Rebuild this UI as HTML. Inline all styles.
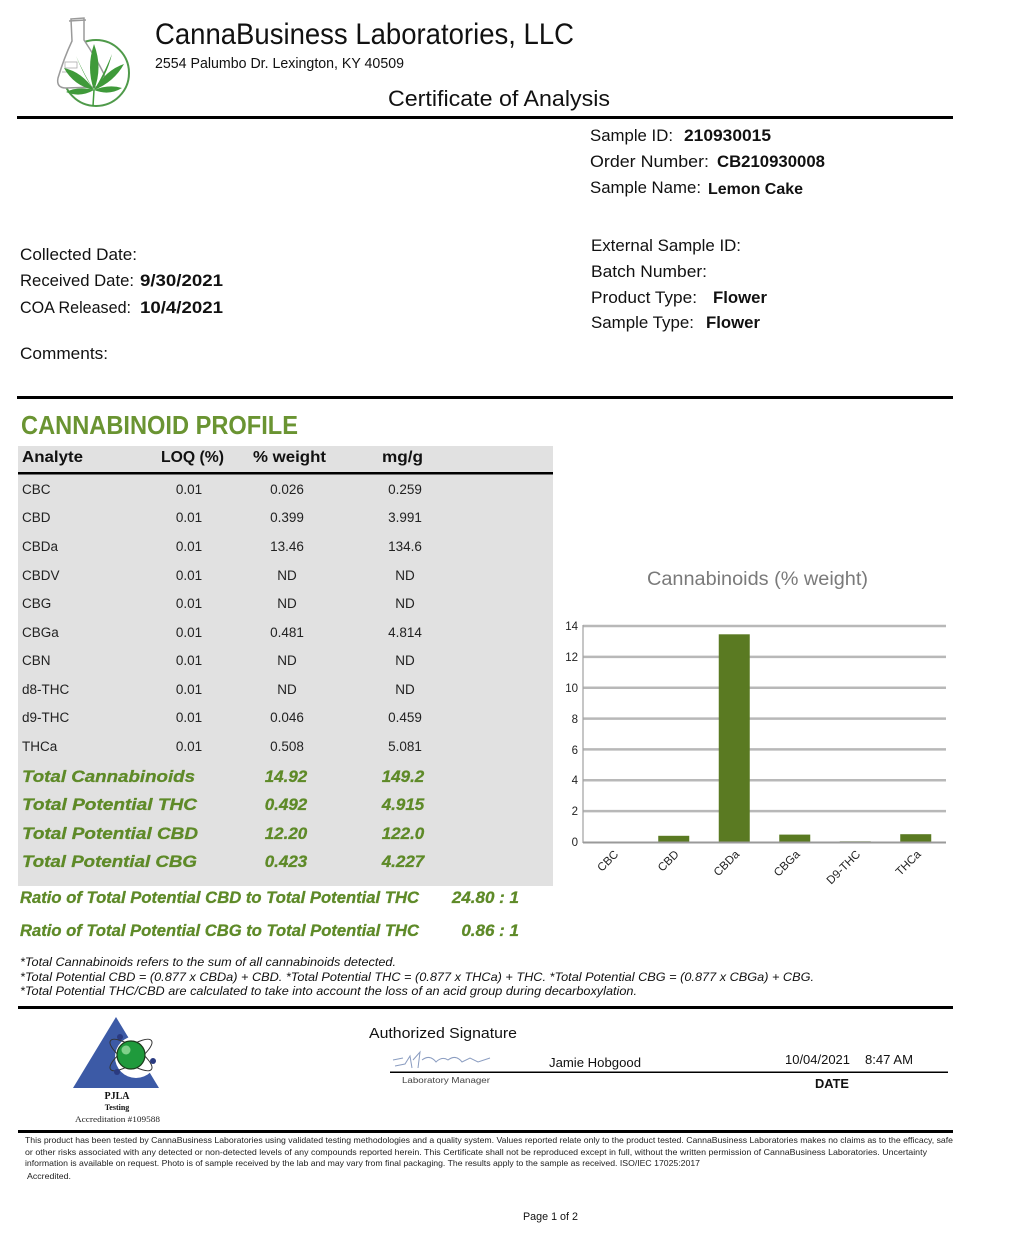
<!DOCTYPE html>
<html>
<head>
<meta charset="utf-8">
<style>
html,body{margin:0;padding:0;background:#fff;}
svg{display:block;}
text{font-family:"Liberation Sans",Arial,sans-serif;}
.serif{font-family:"Liberation Serif","Times New Roman",serif;}
</style>
</head>
<body>
<svg width="1024" height="1257" viewBox="0 0 1024 1257" xmlns="http://www.w3.org/2000/svg">
<rect x="0" y="0" width="1024" height="1257" fill="#ffffff"/>

<!-- Logo -->
<g>
  <circle cx="96" cy="73" r="33" fill="none" stroke="#4f9a4a" stroke-width="2"/>
  <path d="M71,19 L84,18 L84,40 Q96,58 104,74 Q106,86 96,87 L66,88 Q56,88 58,78 Q64,58 72,41 Z" fill="#fff" stroke="#9a9a9a" stroke-width="1.5"/>
  <line x1="69" y1="21" x2="86" y2="20" stroke="#9a9a9a" stroke-width="1.5"/>
  <rect x="65" y="62" width="12" height="6" fill="none" stroke="#aaa" stroke-width="0.8"/>
  <line x1="62" y1="72" x2="70" y2="72" stroke="#aaa" stroke-width="0.8"/>
  <g fill="#3f9a3a">
    <path d="M94,90 Q86,68 94,44 Q103,68 94,90 Z"/>
    <path d="M94,90 Q106,70 124,64 Q114,82 94,90 Z"/>
    <path d="M94,90 Q82,72 64,68 Q74,86 94,90 Z"/>
    <path d="M94,90 Q109,84 122,88 Q109,96 94,90 Z"/>
    <path d="M94,90 Q78,86 66,92 Q80,98 94,90 Z"/>
    <path d="M94,90 Q103,76 112,54 Q106,78 94,90 Z"/>
    <path d="M94,90 Q85,76 76,56 Q85,78 94,90 Z"/>
  </g>
  <line x1="94" y1="90" x2="93" y2="106" stroke="#3f9a3a" stroke-width="1.5"/>
</g>

<!-- Header text -->
<text x="155" y="44" font-size="30" fill="#111" textLength="419" lengthAdjust="spacingAndGlyphs">CannaBusiness Laboratories, LLC</text>
<text x="155" y="68" font-size="14.5" fill="#111" textLength="249" lengthAdjust="spacingAndGlyphs">2554 Palumbo Dr. Lexington, KY 40509</text>
<text x="388" y="106" font-size="22" fill="#111" textLength="222" lengthAdjust="spacingAndGlyphs">Certificate of Analysis</text>
<rect x="17" y="116" width="936" height="3" fill="#000"/>

<!-- Sample info right -->
<g font-size="16.5" fill="#111">
  <text x="590" y="141" textLength="83" lengthAdjust="spacingAndGlyphs">Sample ID:</text>
  <text x="684" y="141" font-weight="bold" textLength="87" lengthAdjust="spacingAndGlyphs">210930015</text>
  <text x="590" y="167" textLength="119" lengthAdjust="spacingAndGlyphs">Order Number:</text>
  <text x="717" y="167" font-weight="bold" textLength="108" lengthAdjust="spacingAndGlyphs">CB210930008</text>
  <text x="590" y="193" textLength="111" lengthAdjust="spacingAndGlyphs">Sample Name:</text>
  <text x="708" y="194" font-weight="bold" font-size="16" textLength="95" lengthAdjust="spacingAndGlyphs">Lemon Cake</text>
  <text x="591" y="251" textLength="150" lengthAdjust="spacingAndGlyphs">External Sample ID:</text>
  <text x="591" y="277" textLength="116" lengthAdjust="spacingAndGlyphs">Batch Number:</text>
  <text x="591" y="303" textLength="106" lengthAdjust="spacingAndGlyphs">Product Type:</text>
  <text x="713" y="303" font-weight="bold" textLength="54" lengthAdjust="spacingAndGlyphs">Flower</text>
  <text x="591" y="328" textLength="103" lengthAdjust="spacingAndGlyphs">Sample Type:</text>
  <text x="706" y="328" font-weight="bold" textLength="54" lengthAdjust="spacingAndGlyphs">Flower</text>

  <text x="20" y="260" textLength="117" lengthAdjust="spacingAndGlyphs">Collected Date:</text>
  <text x="20" y="286" textLength="114" lengthAdjust="spacingAndGlyphs">Received Date:</text>
  <text x="140" y="286" font-weight="bold" textLength="83" lengthAdjust="spacingAndGlyphs">9/30/2021</text>
  <text x="20" y="313" textLength="111" lengthAdjust="spacingAndGlyphs">COA Released:</text>
  <text x="140" y="313" font-weight="bold" textLength="83" lengthAdjust="spacingAndGlyphs">10/4/2021</text>
  <text x="20" y="359" textLength="88" lengthAdjust="spacingAndGlyphs">Comments:</text>
</g>
<rect x="17" y="396" width="936" height="3" fill="#000"/>

<!-- Cannabinoid profile -->
<text x="21" y="434" font-size="26" font-weight="bold" fill="#6a9432" textLength="277" lengthAdjust="spacingAndGlyphs">CANNABINOID PROFILE</text>
<rect x="18" y="446" width="535" height="440" fill="#e1e1e1"/>
<g font-size="16" font-weight="bold" fill="#111">
  <text x="22" y="462" textLength="61" lengthAdjust="spacingAndGlyphs">Analyte</text>
  <text x="161" y="462" textLength="63" lengthAdjust="spacingAndGlyphs">LOQ (%)</text>
  <text x="253" y="462" textLength="73" lengthAdjust="spacingAndGlyphs">% weight</text>
  <text x="382" y="462" textLength="41" lengthAdjust="spacingAndGlyphs">mg/g</text>
</g>
<rect x="18" y="472" width="535" height="2.5" fill="#000"/>

<g font-size="13.5" fill="#222">
  <text x="22" y="494">CBC</text><text x="189" y="494" text-anchor="middle">0.01</text><text x="287" y="494" text-anchor="middle">0.026</text><text x="405" y="494" text-anchor="middle">0.259</text>
  <text x="22" y="522">CBD</text><text x="189" y="522" text-anchor="middle">0.01</text><text x="287" y="522" text-anchor="middle">0.399</text><text x="405" y="522" text-anchor="middle">3.991</text>
  <text x="22" y="551">CBDa</text><text x="189" y="551" text-anchor="middle">0.01</text><text x="287" y="551" text-anchor="middle">13.46</text><text x="405" y="551" text-anchor="middle">134.6</text>
  <text x="22" y="580">CBDV</text><text x="189" y="580" text-anchor="middle">0.01</text><text x="287" y="580" text-anchor="middle">ND</text><text x="405" y="580" text-anchor="middle">ND</text>
  <text x="22" y="608">CBG</text><text x="189" y="608" text-anchor="middle">0.01</text><text x="287" y="608" text-anchor="middle">ND</text><text x="405" y="608" text-anchor="middle">ND</text>
  <text x="22" y="637">CBGa</text><text x="189" y="637" text-anchor="middle">0.01</text><text x="287" y="637" text-anchor="middle">0.481</text><text x="405" y="637" text-anchor="middle">4.814</text>
  <text x="22" y="665">CBN</text><text x="189" y="665" text-anchor="middle">0.01</text><text x="287" y="665" text-anchor="middle">ND</text><text x="405" y="665" text-anchor="middle">ND</text>
  <text x="22" y="694">d8-THC</text><text x="189" y="694" text-anchor="middle">0.01</text><text x="287" y="694" text-anchor="middle">ND</text><text x="405" y="694" text-anchor="middle">ND</text>
  <text x="22" y="722">d9-THC</text><text x="189" y="722" text-anchor="middle">0.01</text><text x="287" y="722" text-anchor="middle">0.046</text><text x="405" y="722" text-anchor="middle">0.459</text>
  <text x="22" y="751">THCa</text><text x="189" y="751" text-anchor="middle">0.01</text><text x="287" y="751" text-anchor="middle">0.508</text><text x="405" y="751" text-anchor="middle">5.081</text>
</g>

<g font-size="17" font-weight="bold" font-style="italic" fill="#5e8a28" stroke="#5e8a28" stroke-width="0.3">
  <text x="22" y="782" textLength="173" lengthAdjust="spacingAndGlyphs">Total Cannabinoids</text>
  <text x="286" y="782" text-anchor="middle">14.92</text><text x="403" y="782" text-anchor="middle">149.2</text>
  <text x="22" y="810" textLength="175" lengthAdjust="spacingAndGlyphs">Total Potential THC</text>
  <text x="286" y="810" text-anchor="middle">0.492</text><text x="403" y="810" text-anchor="middle">4.915</text>
  <text x="22" y="839" textLength="176" lengthAdjust="spacingAndGlyphs">Total Potential CBD</text>
  <text x="286" y="839" text-anchor="middle">12.20</text><text x="403" y="839" text-anchor="middle">122.0</text>
  <text x="22" y="867" textLength="175" lengthAdjust="spacingAndGlyphs">Total Potential CBG</text>
  <text x="286" y="867" text-anchor="middle">0.423</text><text x="403" y="867" text-anchor="middle">4.227</text>
  <text x="20" y="903" textLength="399" lengthAdjust="spacingAndGlyphs">Ratio of Total Potential CBD to Total Potential THC</text>
  <text x="519" y="903" text-anchor="end">24.80 : 1</text>
  <text x="20" y="936" textLength="399" lengthAdjust="spacingAndGlyphs">Ratio of Total Potential CBG to Total Potential THC</text>
  <text x="519" y="936" text-anchor="end">0.86 : 1</text>
</g>

<!-- Chart -->
<g>
  <text x="647" y="585" font-size="19" fill="#7a7a7a" textLength="221" lengthAdjust="spacingAndGlyphs">Cannabinoids (% weight)</text>
  <g stroke="#b8b8b8" stroke-width="2.5">
    <line x1="583" y1="626" x2="946" y2="626"/>
    <line x1="583" y1="656.9" x2="946" y2="656.9"/>
    <line x1="583" y1="687.7" x2="946" y2="687.7"/>
    <line x1="583" y1="718.6" x2="946" y2="718.6"/>
    <line x1="583" y1="749.4" x2="946" y2="749.4"/>
    <line x1="583" y1="780.3" x2="946" y2="780.3"/>
    <line x1="583" y1="811.1" x2="946" y2="811.1"/>
  </g>
  <line x1="583" y1="625" x2="583" y2="843" stroke="#a0a0a0" stroke-width="1.2"/>
  <g font-size="11.5" fill="#222" text-anchor="end">
    <text x="578" y="630">14</text>
    <text x="578" y="661">12</text>
    <text x="578" y="692">10</text>
    <text x="578" y="723">8</text>
    <text x="578" y="754">6</text>
    <text x="578" y="784">4</text>
    <text x="578" y="815">2</text>
    <text x="578" y="846">0</text>
  </g>
  <g fill="#5a7a22">
    <rect x="597.75" y="841.6" width="31" height="0.4"/>
    <rect x="658.25" y="835.8" width="31" height="6.2"/>
    <rect x="718.75" y="634.3" width="31" height="207.7"/>
    <rect x="779.25" y="834.6" width="31" height="7.4"/>
    <rect x="839.75" y="841.3" width="31" height="0.7"/>
    <rect x="900.25" y="834.2" width="31" height="7.8"/>
  </g>
  <line x1="583" y1="842.5" x2="946" y2="842.5" stroke="#9a9a9a" stroke-width="2"/>
  <g font-size="11.5" fill="#222" text-anchor="end">
    <text transform="translate(619,855) rotate(-45)">CBC</text>
    <text transform="translate(679.5,855) rotate(-45)">CBD</text>
    <text transform="translate(740,855) rotate(-45)">CBDa</text>
    <text transform="translate(800.5,855) rotate(-45)">CBGa</text>
    <text transform="translate(861,855) rotate(-45)">D9-THC</text>
    <text transform="translate(921.5,855) rotate(-45)">THCa</text>
  </g>
</g>

<!-- Footnotes -->
<g font-size="12" font-style="italic" fill="#111">
  <text x="20" y="966" textLength="376" lengthAdjust="spacingAndGlyphs">*Total Cannabinoids refers to the sum of all cannabinoids detected.</text>
  <text x="20" y="981" textLength="794" lengthAdjust="spacingAndGlyphs">*Total Potential CBD = (0.877 x CBDa) + CBD. *Total Potential THC = (0.877 x THCa) + THC. *Total Potential CBG = (0.877 x CBGa) + CBG.</text>
  <text x="20" y="995" textLength="617" lengthAdjust="spacingAndGlyphs">*Total Potential THC/CBD are calculated to take into account the loss of an acid group during decarboxylation.</text>
</g>
<rect x="18" y="1006" width="935" height="3" fill="#000"/>

<!-- PJLA logo -->
<g>
  <polygon points="116,1017 73,1088 159,1088" fill="#3c5aa6"/>
  <circle cx="136" cy="1057" r="21" fill="#fff"/>
  <ellipse cx="131" cy="1055" rx="25" ry="8" fill="none" stroke="#333" stroke-width="1" transform="rotate(35 131 1055)"/>
  <ellipse cx="131" cy="1055" rx="25" ry="8" fill="none" stroke="#333" stroke-width="1" transform="rotate(-35 131 1055)"/>
  <circle cx="131" cy="1055" r="14" fill="#1f9a3c" stroke="#1a3a1a" stroke-width="1.2"/>
  <circle cx="126" cy="1050" r="4.5" fill="#7fd08a"/>
  <circle cx="120" cy="1037" r="3" fill="#2a3a80"/>
  <circle cx="153" cy="1061" r="3" fill="#2a3a80"/>
  <circle cx="117" cy="1072" r="3" fill="#2a3a80"/>
  <text class="serif" x="117" y="1099" font-size="10" font-weight="bold" text-anchor="middle" fill="#111">PJLA</text>
  <text class="serif" x="117" y="1110" font-size="8" font-weight="bold" text-anchor="middle" fill="#111">Testing</text>
  <text class="serif" x="75" y="1122" font-size="8" fill="#222" textLength="85" lengthAdjust="spacingAndGlyphs">Accreditation #109588</text>
</g>

<!-- Signature -->
<text x="369" y="1038" font-size="15" fill="#111" textLength="148" lengthAdjust="spacingAndGlyphs">Authorized Signature</text>
<path d="M393,1060 L403,1058 M395,1066 L405,1064 L410,1056 L412,1068 M413,1060 L420,1052 L418,1068 M422,1060 Q430,1054 436,1062 Q442,1056 448,1060 Q456,1054 462,1062 L470,1058 L478,1062 L490,1058" fill="none" stroke="#8a9cc0" stroke-width="1"/>
<text x="549" y="1067" font-size="13" fill="#111" textLength="92" lengthAdjust="spacingAndGlyphs">Jamie Hobgood</text>
<text x="785" y="1064" font-size="13" fill="#111" textLength="65" lengthAdjust="spacingAndGlyphs">10/04/2021</text>
<text x="865" y="1064" font-size="13" fill="#111" textLength="48" lengthAdjust="spacingAndGlyphs">8:47 AM</text>
<rect x="390" y="1071.5" width="558" height="1.5" fill="#000"/>
<text x="402" y="1083" font-size="8" fill="#444" textLength="88" lengthAdjust="spacingAndGlyphs">Laboratory Manager</text>
<text x="815" y="1088" font-size="13" font-weight="bold" fill="#111" textLength="34" lengthAdjust="spacingAndGlyphs">DATE</text>

<rect x="18" y="1130" width="935" height="3" fill="#000"/>
<g font-size="8.3" fill="#222">
  <text x="25" y="1143" textLength="928" lengthAdjust="spacingAndGlyphs">This product has been tested by CannaBusiness Laboratories using validated testing methodologies and a quality system. Values reported relate only to the product tested.  CannaBusiness Laboratories makes no claims as to the efficacy, safe</text>
  <text x="25" y="1155" textLength="902" lengthAdjust="spacingAndGlyphs">or other risks associated with any detected or non-detected levels of any compounds reported herein.  This Certificate shall not be reproduced except in full, without the written permission of CannaBusiness Laboratories.  Uncertainty</text>
  <text x="25" y="1166" textLength="675" lengthAdjust="spacingAndGlyphs">information is available on request.  Photo is of sample received by the lab and may vary from final packaging. The results apply to the sample as received. ISO/IEC 17025:2017</text>
  <text x="27" y="1179" textLength="44" lengthAdjust="spacingAndGlyphs">Accredited.</text>
</g>
<text x="523" y="1220" font-size="11" fill="#111" textLength="55" lengthAdjust="spacingAndGlyphs">Page 1 of 2</text>
</svg>
</body>
</html>
